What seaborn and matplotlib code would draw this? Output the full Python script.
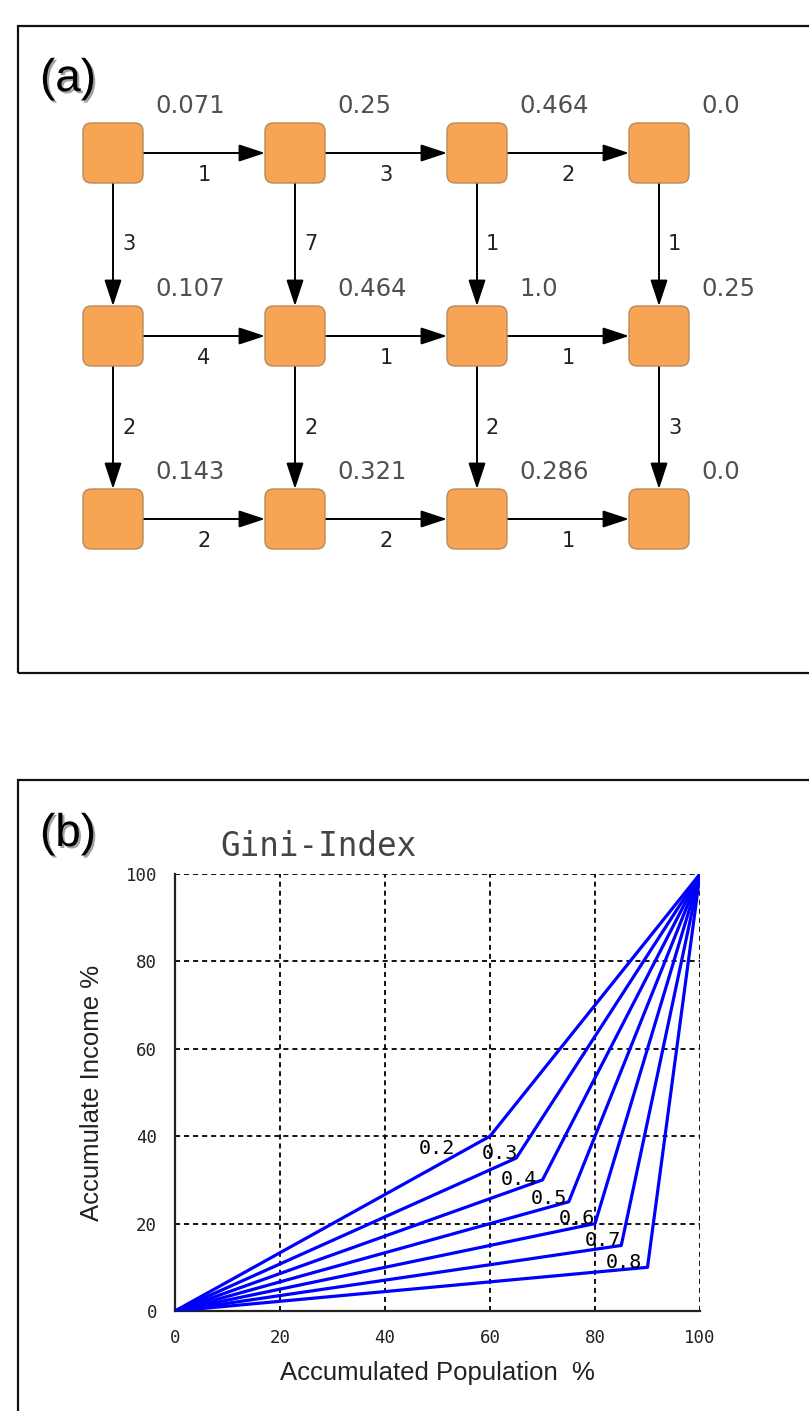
import numpy as np
import pandas as pd
import seaborn as sns
import matplotlib.pyplot as plt
import matplotlib.patheffects as pe
from matplotlib.patches import FancyBboxPatch, Rectangle
from matplotlib.patches import ArrowStyle

# ---------------- data: panel (a) grid graph ----------------
NODE_VALUES = [
    ['0.071', '0.25', '0.464', '0.0'],
    ['0.107', '0.464', '1.0', '0.25'],
    ['0.143', '0.321', '0.286', '0.0'],
]
# weights of the horizontal edges, one list per row (left to right)
H_WEIGHTS = [
    [1, 3, 2],
    [4, 1, 1],
    [2, 2, 1],
]
# weights of the vertical edges, one list per gap between rows
V_WEIGHTS = [
    [3, 7, 1, 1],
    [2, 2, 2, 3],
]

# ---------------- data: panel (b) Gini index ----------------
GINI = [0.2, 0.3, 0.4, 0.5, 0.6, 0.7, 0.8]
KINK_POP = [60, 65, 70, 75, 80, 85, 90]
KINK_INCOME = [40, 35, 30, 25, 20, 15, 10]
TICKS = [0, 20, 40, 60, 80, 100]

W, H = 809, 1411
sns.set_style('white')

fig = plt.figure(figsize=(W / 100, H / 100), dpi=100)


def fx(px):
    return px / W


def fy(py):
    return 1 - py / H


# ======================= panel (a) =======================
ax_a = fig.add_axes([0, fy(700), 1, 700 / H])
ax_a.axis('off')
ax_a.set_xlim(-113 / 182, (W - 113) / 182)
ax_a.set_ylim((700 - 153) / 183, -153 / 183)

hx, hy = 30 / 182, 30 / 183
node_fill = '#F7A554'
node_edge = '#B98A5E'
arrow = ArrowStyle('-|>', head_length=1.15, head_width=0.38)

for r, row in enumerate(NODE_VALUES):
    for c, val in enumerate(row):
        box = FancyBboxPatch((c - hx, r - hy), 2 * hx, 2 * hy,
                             boxstyle='round,pad=0,rounding_size=0.045',
                             fc=node_fill, ec=node_edge, lw=1.0, zorder=3)
        ax_a.add_patch(box)
        ax_a.text(c + 42 / 182, r - 40 / 183, val, ha='left', va='baseline',
                  fontsize=17.5, color='#505050', family='DejaVu Sans')

for r, weights in enumerate(H_WEIGHTS):
    for c, w in enumerate(weights):
        ax_a.annotate('', xy=(c + 1 - hx, r), xytext=(c + hx, r),
                      arrowprops=dict(arrowstyle=arrow, color='black', lw=1.4,
                                      mutation_scale=14, shrinkA=0, shrinkB=0),
                      zorder=2)
        ax_a.text(c + 0.5, r + 22 / 183, str(w), ha='center', va='center',
                  fontsize=15, color='#222222', family='DejaVu Sans')

for r, weights in enumerate(V_WEIGHTS):
    for c, w in enumerate(weights):
        ax_a.annotate('', xy=(c, r + 1 - hy), xytext=(c, r + hy),
                      arrowprops=dict(arrowstyle=arrow, color='black', lw=1.4,
                                      mutation_scale=14, shrinkA=0, shrinkB=0),
                      zorder=2)
        ax_a.text(c + 9 / 182, r + 0.5, str(w), ha='left', va='center',
                  fontsize=15, color='#222222', family='DejaVu Sans')

# ======================= panel (b) =======================
ax_b = fig.add_axes([fx(175), fy(1311), 525 / W, 437 / H])

rows = []
for g, kx, ky in zip(GINI, KINK_POP, KINK_INCOME):
    for x, y in [(0, 0), (kx, ky), (100, 100)]:
        rows.append({'gini': g, 'population': x, 'income': y})
df = pd.DataFrame(rows)

sns.lineplot(data=df, x='population', y='income', hue='gini',
             palette=['#0000FF'] * len(GINI), estimator=None, sort=False,
             legend=False, linewidth=2.3, ax=ax_b, zorder=3)

# label offsets (points) from each kink
label_offsets = [(-25, -9), (1, 3), (-4, 0), (-1, 2.5), (0, 3.5), (0, 3.5),
                 (-4, 3.5)]
for g, kx, ky, off in zip(GINI, KINK_POP, KINK_INCOME, label_offsets):
    ax_b.annotate(f'{g:.1f}', xy=(kx, ky), xytext=off,
                  textcoords='offset points', ha='right', va='center',
                  fontsize=14.5, family='DejaVu Sans Mono', color='black',
                  zorder=4)

ax_b.set_xlim(0, 100)
ax_b.set_ylim(0, 100)
ax_b.set_xticks(TICKS)
ax_b.set_yticks(TICKS)
ax_b.grid(True, color='black', linestyle=(0, (2.8, 2.2)), linewidth=1.3)
ax_b.set_axisbelow(True)
for side in ['top', 'right']:
    ax_b.spines[side].set_visible(False)
for side in ['left', 'bottom']:
    ax_b.spines[side].set_color('#222222')
    ax_b.spines[side].set_linewidth(1.6)
ax_b.tick_params(length=0, pad=13, labelsize=12.5, labelcolor='#222222')
for lab in ax_b.get_xticklabels() + ax_b.get_yticklabels():
    lab.set_family('DejaVu Sans Mono')

ax_b.set_xlabel('Accumulated Population  %', fontsize=18.5,
                family='Liberation Sans', color='#222222')
ax_b.set_ylabel('Accumulate Income %', fontsize=18.5,
                family='Liberation Sans', color='#222222')
ax_b.xaxis.set_label_coords(0.5, -0.114)
ax_b.yaxis.set_label_coords(-0.135, 0.5)

fig.text(fx(319), fy(856), 'Gini-Index', ha='center', va='baseline',
         fontsize=23.5, family='DejaVu Sans Mono', color='#444444')

# ---------------- panel frames and letters ----------------
fig.add_artist(Rectangle((fx(18), fy(673)), fx(840), 647 / H,
                         transform=fig.transFigure, fill=False,
                         ec='#111111', lw=1.6))
fig.add_artist(Rectangle((fx(18), fy(1440)), fx(840), 660 / H,
                         transform=fig.transFigure, fill=False,
                         ec='#111111', lw=1.6))

shadow = [pe.withSimplePatchShadow(offset=(1.5, -1.5),
                                   shadow_rgbFace='#888888', alpha=0.8)]
fig.text(fx(40), fy(91), '(a)', ha='left', va='baseline', fontsize=33,
         family='Liberation Sans', color='black', path_effects=shadow)
fig.text(fx(40), fy(846), '(b)', ha='left', va='baseline', fontsize=33,
         family='Liberation Sans', color='black', path_effects=shadow)

fig.savefig('out.png', dpi=100)
